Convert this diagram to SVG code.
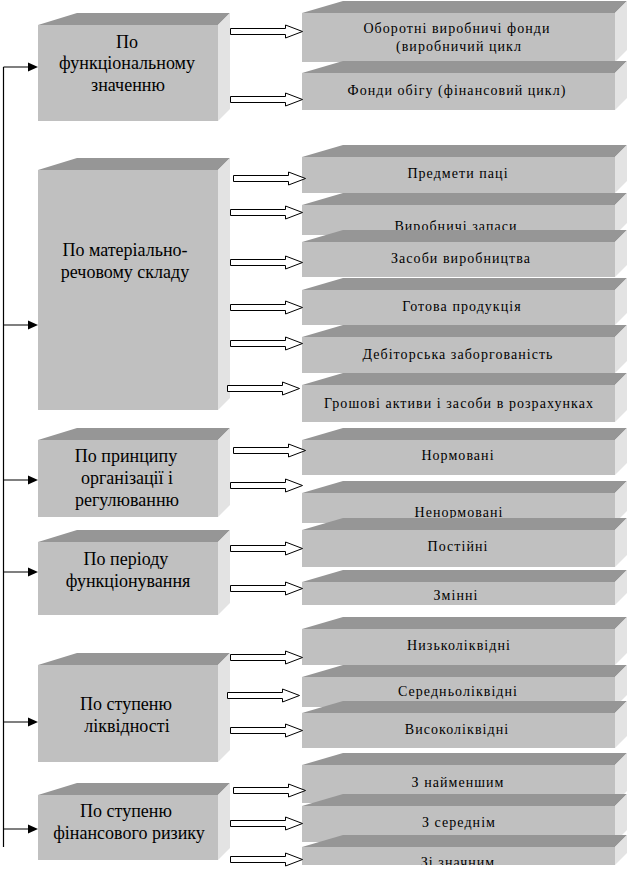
<svg xmlns="http://www.w3.org/2000/svg" xmlns:xlink="http://www.w3.org/1999/xlink" width="634" height="874" viewBox="0 0 634 874">
<defs>
<path id="ba" d="M0,-3 H55 V-6.5 L72,0 L55,6.5 V3 H0 Z" fill="#fff" stroke="#000" stroke-width="1"/>
<clipPath id="c18"><rect x="302" y="847" width="313" height="18"/></clipPath>
</defs>
<rect width="634" height="874" fill="#fff"/>

<g id="left-nodes" text-anchor="middle">
<g id="l1">
<rect fill="#c0c0c0" x="38" y="25" width="180" height="96"/>
<polygon fill="#969696" points="38,25 77,13 230,13 218,25"/>
<polygon fill="#e3e3e3" points="218,25 230,13 230,109 218,121"/>
<text font-family="Liberation Serif, serif" font-size="18" x="127" y="48">По</text>
<text font-family="Liberation Serif, serif" font-size="18" x="127" y="69">функціональному</text>
<text font-family="Liberation Serif, serif" font-size="18" x="128" y="91">значенню</text>
</g>
<g id="l2">
<rect fill="#c0c0c0" x="38" y="170" width="180" height="240"/>
<polygon fill="#969696" points="38,170 77,158 230,158 218,170"/>
<polygon fill="#e3e3e3" points="218,170 230,158 230,398 218,410"/>
<text font-family="Liberation Serif, serif" font-size="18" x="125" y="256">По матеріально-</text>
<text font-family="Liberation Serif, serif" font-size="18" x="125" y="278">речовому складу</text>
</g>
<g id="l3">
<rect fill="#c0c0c0" x="38" y="440" width="180" height="77"/>
<polygon fill="#969696" points="38,440 77,428 230,428 218,440"/>
<polygon fill="#e3e3e3" points="218,440 230,428 230,505 218,517"/>
<text font-family="Liberation Serif, serif" font-size="18" x="126" y="462">По принципу</text>
<text font-family="Liberation Serif, serif" font-size="18" x="127" y="484">організації і</text>
<text font-family="Liberation Serif, serif" font-size="18" x="127" y="506">регулюванню</text>
</g>
<g id="l4">
<rect fill="#c0c0c0" x="38" y="542" width="180" height="73"/>
<polygon fill="#969696" points="38,542 77,530 230,530 218,542"/>
<polygon fill="#e3e3e3" points="218,542 230,530 230,603 218,615"/>
<text font-family="Liberation Serif, serif" font-size="18" x="126" y="565">По періоду</text>
<text font-family="Liberation Serif, serif" font-size="18" x="128" y="587">функціонування</text>
</g>
<g id="l5">
<rect fill="#c0c0c0" x="38" y="665" width="180" height="97"/>
<polygon fill="#969696" points="38,665 77,653 230,653 218,665"/>
<polygon fill="#e3e3e3" points="218,665 230,653 230,750 218,762"/>
<text font-family="Liberation Serif, serif" font-size="18" x="126" y="710">По ступеню</text>
<text font-family="Liberation Serif, serif" font-size="18" x="127" y="732">ліквідності</text>
</g>
<g id="l6">
<rect fill="#c0c0c0" x="38" y="795" width="180" height="65"/>
<polygon fill="#969696" points="38,795 77,783 230,783 218,795"/>
<polygon fill="#e3e3e3" points="218,795 230,783 230,848 218,860"/>
<text font-family="Liberation Serif, serif" font-size="18" x="126" y="817">По ступеню</text>
<text font-family="Liberation Serif, serif" font-size="18" x="129" y="839">фінансового ризику</text>
</g>
</g>

<g id="right-nodes" text-anchor="middle">
<g id="r1">
<polygon fill="#969696" points="302,13 343,1 627,1 615,13"/>
<rect fill="#c0c0c0" x="302" y="13" width="313" height="49"/>
<polygon fill="#e3e3e3" points="615,13 627,1 627,50 615,62"/>
<text font-family="Liberation Serif, serif" font-size="14" letter-spacing="1.05" x="457" y="33">Оборотні виробничі фонди</text>
<text font-family="Liberation Serif, serif" font-size="14" letter-spacing="1.05" x="459" y="51">(виробничий цикл</text>
</g>
<g id="r2">
<polygon fill="#969696" points="302,73 343,61 627,61 615,73"/>
<rect fill="#c0c0c0" x="302" y="73" width="313" height="37"/>
<polygon fill="#e3e3e3" points="615,73 627,61 627,98 615,110"/>
<text font-family="Liberation Serif, serif" font-size="14" letter-spacing="1.05" x="457" y="95">Фонди обігу (фінансовий цикл)</text>
</g>
<g id="r3">
<polygon fill="#969696" points="302,157 343,145 627,145 615,157"/>
<rect fill="#c0c0c0" x="302" y="157" width="313" height="36"/>
<polygon fill="#e3e3e3" points="615,157 627,145 627,181 615,193"/>
<text font-family="Liberation Serif, serif" font-size="14" letter-spacing="1.05" x="458" y="178">Предмети паці</text>
</g>
<g id="r4">
<polygon fill="#969696" points="302,205 343,193 627,193 615,205"/>
<rect fill="#c0c0c0" x="302" y="205" width="313" height="30"/>
<polygon fill="#e3e3e3" points="615,205 627,193 627,223 615,235"/>
<text font-family="Liberation Serif, serif" font-size="14" letter-spacing="1.05" x="456" y="231">Виробничі запаси</text>
</g>
<g id="r5">
<polygon fill="#969696" points="302,242 343,230 627,230 615,242"/>
<rect fill="#c0c0c0" x="302" y="242" width="313" height="35"/>
<polygon fill="#e3e3e3" points="615,242 627,230 627,265 615,277"/>
<text font-family="Liberation Serif, serif" font-size="14" letter-spacing="1.05" x="461" y="263">Засоби виробництва</text>
</g>
<g id="r6">
<polygon fill="#969696" points="302,290 343,278 627,278 615,290"/>
<rect fill="#c0c0c0" x="302" y="290" width="313" height="35"/>
<polygon fill="#e3e3e3" points="615,290 627,278 627,313 615,325"/>
<text font-family="Liberation Serif, serif" font-size="14" letter-spacing="1.05" x="462" y="311">Готова продукція</text>
</g>
<g id="r7">
<polygon fill="#969696" points="302,337 343,325 627,325 615,337"/>
<rect fill="#c0c0c0" x="302" y="337" width="313" height="36"/>
<polygon fill="#e3e3e3" points="615,337 627,325 627,361 615,373"/>
<text font-family="Liberation Serif, serif" font-size="14" letter-spacing="1.05" x="458" y="359">Дебіторська заборгованість</text>
</g>
<g id="r8">
<polygon fill="#969696" points="302,385 343,373 627,373 615,385"/>
<rect fill="#c0c0c0" x="302" y="385" width="313" height="37"/>
<polygon fill="#e3e3e3" points="615,385 627,373 627,410 615,422"/>
<text font-family="Liberation Serif, serif" font-size="14" letter-spacing="1.05" x="459" y="408">Грошові активи і засоби в розрахунках</text>
</g>
<g id="r9">
<polygon fill="#969696" points="302,440 343,428 627,428 615,440"/>
<rect fill="#c0c0c0" x="302" y="440" width="313" height="35"/>
<polygon fill="#e3e3e3" points="615,440 627,428 627,463 615,475"/>
<text font-family="Liberation Serif, serif" font-size="14" letter-spacing="1.05" x="458" y="460">Нормовані</text>
</g>
<g id="r10">
<polygon fill="#969696" points="302,493 343,481 627,481 615,493"/>
<rect fill="#c0c0c0" x="302" y="493" width="313" height="30"/>
<polygon fill="#e3e3e3" points="615,493 627,481 627,511 615,523"/>
<text font-family="Liberation Serif, serif" font-size="14" letter-spacing="1.05" x="459" y="517">Ненормовані</text>
</g>
<g id="r11">
<polygon fill="#969696" points="302,530 343,518 627,518 615,530"/>
<rect fill="#c0c0c0" x="302" y="530" width="313" height="37"/>
<polygon fill="#e3e3e3" points="615,530 627,518 627,555 615,567"/>
<text font-family="Liberation Serif, serif" font-size="14" letter-spacing="1.05" x="458" y="551">Постійні</text>
</g>
<g id="r12">
<polygon fill="#969696" points="302,582 343,570 627,570 615,582"/>
<rect fill="#c0c0c0" x="302" y="582" width="313" height="23"/>
<polygon fill="#e3e3e3" points="615,582 627,570 627,593 615,605"/>
<text font-family="Liberation Serif, serif" font-size="14" letter-spacing="1.05" x="456" y="600">Змінні</text>
</g>
<g id="r13">
<polygon fill="#969696" points="302,629 343,617 627,617 615,629"/>
<rect fill="#c0c0c0" x="302" y="629" width="313" height="36"/>
<polygon fill="#e3e3e3" points="615,629 627,617 627,653 615,665"/>
<text font-family="Liberation Serif, serif" font-size="14" letter-spacing="1.05" x="459" y="650">Низьколіквідні</text>
</g>
<g id="r14">
<polygon fill="#969696" points="302,677 343,665 627,665 615,677"/>
<rect fill="#c0c0c0" x="302" y="677" width="313" height="30"/>
<polygon fill="#e3e3e3" points="615,677 627,665 627,695 615,707"/>
<text font-family="Liberation Serif, serif" font-size="14" letter-spacing="1.05" x="458" y="696">Середньоліквідні</text>
</g>
<g id="r15">
<polygon fill="#969696" points="302,713 343,701 627,701 615,713"/>
<rect fill="#c0c0c0" x="302" y="713" width="313" height="35"/>
<polygon fill="#e3e3e3" points="615,713 627,701 627,736 615,748"/>
<text font-family="Liberation Serif, serif" font-size="14" letter-spacing="1.05" x="457" y="734">Високоліквідні</text>
</g>
<g id="r16">
<polygon fill="#969696" points="302,765 343,753 627,753 615,765"/>
<rect fill="#c0c0c0" x="302" y="765" width="313" height="38"/>
<polygon fill="#e3e3e3" points="615,765 627,753 627,791 615,803"/>
<text font-family="Liberation Serif, serif" font-size="14" letter-spacing="1.05" x="458" y="787">З найменшим</text>
</g>
<g id="r17">
<polygon fill="#969696" points="302,806 343,794 627,794 615,806"/>
<rect fill="#c0c0c0" x="302" y="806" width="313" height="36"/>
<polygon fill="#e3e3e3" points="615,806 627,794 627,830 615,842"/>
<text font-family="Liberation Serif, serif" font-size="14" letter-spacing="1.05" x="459" y="827">З середнім</text>
</g>
<g id="r18">
<polygon fill="#969696" points="302,847 343,835 627,835 615,847"/>
<rect fill="#c0c0c0" x="302" y="847" width="313" height="18"/>
<polygon fill="#e3e3e3" points="615,847 627,835 627,853 615,865"/>
<text font-family="Liberation Serif, serif" font-size="14" letter-spacing="1.05" x="458" y="867" clip-path="url(#c18)">Зі значним</text>
</g>
</g>

<g id="connectors">
<path fill="none" stroke="#000" stroke-width="1.2" d="M3.5,67 V847"/>
<path fill="none" stroke="#000" stroke-width="1.2" d="M3.5,67 H29 M3.5,325 H29 M3.5,480 H29 M3.5,572 H29 M3.5,722 H29 M3.5,829 H29"/>
<polygon fill="#000" points="28,62.5 38,67 28,71.5"/>
<polygon fill="#000" points="28,320.5 38,325 28,329.5"/>
<polygon fill="#000" points="28,475.5 38,480 28,484.5"/>
<polygon fill="#000" points="28,567.5 38,572 28,576.5"/>
<polygon fill="#000" points="28,717.5 38,722 28,726.5"/>
<polygon fill="#000" points="28,824.5 38,829 28,833.5"/>
<use xlink:href="#ba" x="230.5" y="31.5"/>
<use xlink:href="#ba" x="230.5" y="99.5"/>
<use xlink:href="#ba" x="233.5" y="178.5"/>
<use xlink:href="#ba" x="230.5" y="212.5"/>
<use xlink:href="#ba" x="230.5" y="262.5"/>
<use xlink:href="#ba" x="230.5" y="307.5"/>
<use xlink:href="#ba" x="230.5" y="343.5"/>
<use xlink:href="#ba" x="227.5" y="388.5"/>
<use xlink:href="#ba" x="233.5" y="450.5"/>
<use xlink:href="#ba" x="230.5" y="485.5"/>
<use xlink:href="#ba" x="230.5" y="548.5"/>
<use xlink:href="#ba" x="230.5" y="588.5"/>
<use xlink:href="#ba" x="230.5" y="657.5"/>
<use xlink:href="#ba" x="227.5" y="695.5"/>
<use xlink:href="#ba" x="230.5" y="730.5"/>
<use xlink:href="#ba" x="233.5" y="790.5"/>
<use xlink:href="#ba" x="230.5" y="823.5"/>
<use xlink:href="#ba" x="230.5" y="859.5"/>
</g>
</svg>
